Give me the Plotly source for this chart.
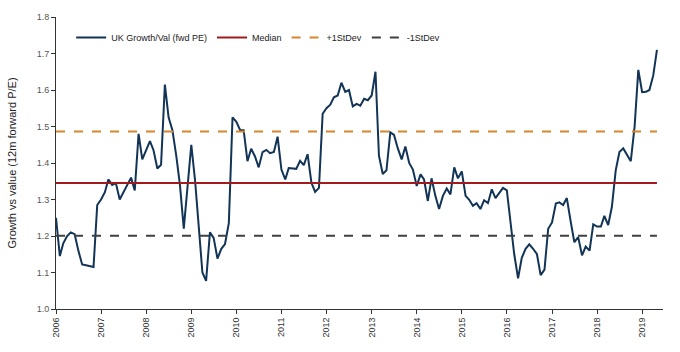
import plotly.graph_objects as go
import pandas as pd

values_by_year = {
    2006: [1.25, 1.145, 1.18, 1.20, 1.21, 1.205, 1.16, 1.122, 1.12, 1.117, 1.115, 1.285],
    2007: [1.30, 1.32, 1.355, 1.34, 1.345, 1.30, 1.32, 1.34, 1.36, 1.325, 1.48, 1.41],
    2008: [1.435, 1.46, 1.435, 1.385, 1.395, 1.615, 1.525, 1.49, 1.42, 1.34, 1.22, 1.33],
    2009: [1.45, 1.35, 1.22, 1.10, 1.077, 1.21, 1.195, 1.138, 1.165, 1.178, 1.235, 1.525],
    2010: [1.513, 1.49, 1.49, 1.405, 1.439, 1.418, 1.388, 1.43, 1.436, 1.427, 1.43, 1.472],
    2011: [1.382, 1.355, 1.386, 1.385, 1.384, 1.406, 1.394, 1.424, 1.346, 1.321, 1.332, 1.535],
    2012: [1.55, 1.56, 1.58, 1.585, 1.62, 1.595, 1.60, 1.555, 1.562, 1.557, 1.576, 1.572],
    2013: [1.585, 1.65, 1.42, 1.37, 1.38, 1.484, 1.477, 1.44, 1.41, 1.445, 1.40, 1.382],
    2014: [1.337, 1.369, 1.355, 1.296, 1.358, 1.31, 1.274, 1.31, 1.33, 1.314, 1.388, 1.358],
    2015: [1.377, 1.31, 1.30, 1.283, 1.29, 1.274, 1.298, 1.29, 1.328, 1.304, 1.319, 1.332],
    2016: [1.325, 1.23, 1.15, 1.084, 1.14, 1.165, 1.177, 1.165, 1.15, 1.093, 1.108, 1.22],
    2017: [1.237, 1.289, 1.292, 1.285, 1.304, 1.24, 1.183, 1.197, 1.147, 1.171, 1.16, 1.232],
    2018: [1.226, 1.226, 1.255, 1.23, 1.28, 1.38, 1.43, 1.44, 1.42, 1.405, 1.50, 1.655],
    2019: [1.594, 1.595, 1.60, 1.64, 1.71],
}

growth_val = [v for y in sorted(values_by_year) for v in values_by_year[y]]
dates = pd.date_range("2006-01-01", periods=len(growth_val), freq="MS")

median_val = 1.345
plus_1sd = 1.486
minus_1sd = 1.201

tick_years = list(range(2006, 2020))
tick_dates = [f"{y}-01-01" for y in tick_years]
tick_labels = [str(y) for y in tick_years]

series_names = ["UK Growth/Val (fwd PE)", "Median", "+1StDev", "-1StDev"]

fig = go.Figure()
fig.add_trace(go.Scatter(x=dates, y=growth_val, mode="lines", name=series_names[0],
                         line=dict(color="#123456", width=2)))
fig.add_trace(go.Scatter(x=dates, y=[median_val] * len(dates), mode="lines", name=series_names[1],
                         line=dict(color="#A01C1C", width=2)))
fig.add_trace(go.Scatter(x=dates, y=[plus_1sd] * len(dates), mode="lines", name=series_names[2],
                         line=dict(color="#D8862E", width=2, dash="dash")))
fig.add_trace(go.Scatter(x=dates, y=[minus_1sd] * len(dates), mode="lines", name=series_names[3],
                         line=dict(color="#404040", width=2, dash="dash")))

fig.update_layout(
    width=680, height=352,
    margin=dict(l=56, r=17, t=14, b=43),
    paper_bgcolor="white", plot_bgcolor="white",
    font=dict(family="Liberation Sans, Arial", size=9, color="#222222"),
    showlegend=True,
    legend=dict(orientation="h", x=0.025, y=0.93, xanchor="left", yanchor="middle",
                font=dict(size=9, color="#222222"), bgcolor="rgba(0,0,0,0)",
                itemwidth=30, tracegroupgap=0),
    xaxis=dict(
        type="date",
        range=["2006-01-01", "2019-06-19"],
        tickvals=tick_dates, ticktext=tick_labels, tickangle=-90,
        showgrid=False, zeroline=False,
        showline=True, linecolor="#333333", linewidth=1,
        ticks="outside", ticklen=4, tickcolor="#333333",
        tickfont=dict(size=9, color="#333333"),
    ),
    yaxis=dict(
        range=[1.0, 1.8], dtick=0.1, tickformat=".1f",
        showgrid=False, zeroline=False,
        showline=True, linecolor="#333333", linewidth=1,
        ticks="outside", ticklen=4, tickcolor="#333333",
        tickfont=dict(size=9, color="#555555"),
        title=dict(text="Growth vs value (12m forward P/E)", font=dict(size=11, color="#222222"), standoff=17),
    ),
)

fig.write_html("out.html")
